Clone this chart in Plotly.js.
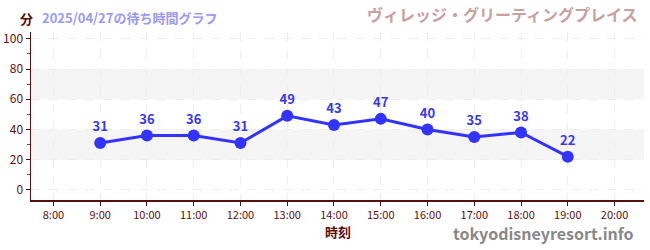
<!DOCTYPE html>
<html><head><meta charset="utf-8">
<script src="https://cdn.plot.ly/plotly-3.0.1.min.js"></script>
<style>html,body{margin:0;padding:0;background:#fff;}#chart{width:650px;height:250px;}</style>
</head><body><div id="chart"></div>
<script>
const hours = [9, 10, 11, 12, 13, 14, 15, 16, 17, 18, 19];
const waitMinutes = [31, 36, 36, 31, 49, 43, 47, 40, 35, 38, 22];
const tickHours = [8, 9, 10, 11, 12, 13, 14, 15, 16, 17, 18, 19, 20];
const tickLabels = ["8:00","9:00","10:00","11:00","12:00","13:00","14:00","15:00","16:00","17:00","18:00","19:00","20:00"];
const yTicks = [0, 20, 40, 60, 80, 100];
const bands = [[20, 40], [60, 80]];

const maroon = '#5a0f0f';
const fontCJK = '"Noto Sans CJK JP", "Noto Sans", sans-serif';
const fontTick = '"Liberation Sans Narrow", "Noto Sans CJK JP", sans-serif';

const shapes = bands.map(b => ({type:'rect', xref:'paper', yref:'y', x0:0, x1:1, y0:b[0], y1:b[1], fillcolor:'#f5f5f5', line:{width:0}, layer:'below'}));

const trace = {
  x: hours, y: waitMinutes, type:'scatter', mode:'lines+markers+text',
  text: waitMinutes.map(String), textposition:'top center',
  textfont:{family:fontCJK, size:13, color:'#3838f0', weight:'bold'},
  line:{color:'#3333ff', width:3},
  marker:{color:'#3333ff', size:12},
  cliponaxis:false, hoverinfo:'none'
};

const layout = {
  width:650, height:250,
  margin:{l:31, r:6, t:32, b:50},
  paper_bgcolor:'#fff', plot_bgcolor:'#fff',
  showlegend:false,
  shapes: shapes,
  xaxis:{
    range:[7.52, 20.63], tickvals:tickHours, ticktext:tickLabels,
    showgrid:true, gridcolor:'#ededed', griddash:'dash', gridwidth:1,
    showline:true, linecolor:maroon, linewidth:1.5,
    ticks:'outside', ticklen:4, tickcolor:maroon,
    tickfont:{family:fontTick, size:11, color:maroon},
    zeroline:false
  },
  yaxis:{
    range:[-6.7, 104.5], tickvals:yTicks,
    showgrid:true, gridcolor:'#ededed', griddash:'dash', gridwidth:1,
    showline:true, linecolor:maroon, linewidth:1.5,
    ticks:'outside', ticklen:4, tickcolor:maroon,
    tickfont:{family:fontTick, size:12, color:maroon},
    zeroline:false,
    minor:{tickvals:[10,30,50,70,90], ticks:'outside', ticklen:3, tickcolor:'#dd2222', showgrid:false}
  },
  annotations:[
    {xref:'paper', yref:'paper', x:0.5, y:0, yshift:-31, xanchor:'center', yanchor:'middle', showarrow:false,
     text:'<b>時刻</b>', font:{family:fontCJK, size:13, color:maroon}},
    {xref:'paper', yref:'paper', x:0, y:1, xshift:-13, yshift:14, xanchor:'left', yanchor:'middle', showarrow:false,
     text:'<b>分</b>', font:{family:fontCJK, size:13, color:maroon}},
    {xref:'paper', yref:'paper', x:0, y:1, xshift:9, yshift:15, xanchor:'left', yanchor:'middle', showarrow:false,
     text:'<b>2025/04/27の待ち時間グラフ</b>', font:{family:fontCJK, size:13, color:'#9a9af5'}},
    {xref:'paper', yref:'paper', x:1, y:1, xshift:-4, yshift:18, xanchor:'right', yanchor:'middle', showarrow:false,
     text:'<b>ヴィレッジ・グリーティングプレイス</b>', font:{family:fontCJK, size:16, color:'#c8a0a0'}},
    {xref:'paper', yref:'paper', x:1, y:0, xshift:-8, yshift:-33, xanchor:'right', yanchor:'middle', showarrow:false,
     text:'<b>tokyodisneyresort.info</b>', font:{family:fontCJK, size:16, color:'#888888'}}
  ]
};
Plotly.newPlot('chart', [trace], layout, {displayModeBar:false, staticPlot:true});
</script></body></html>
